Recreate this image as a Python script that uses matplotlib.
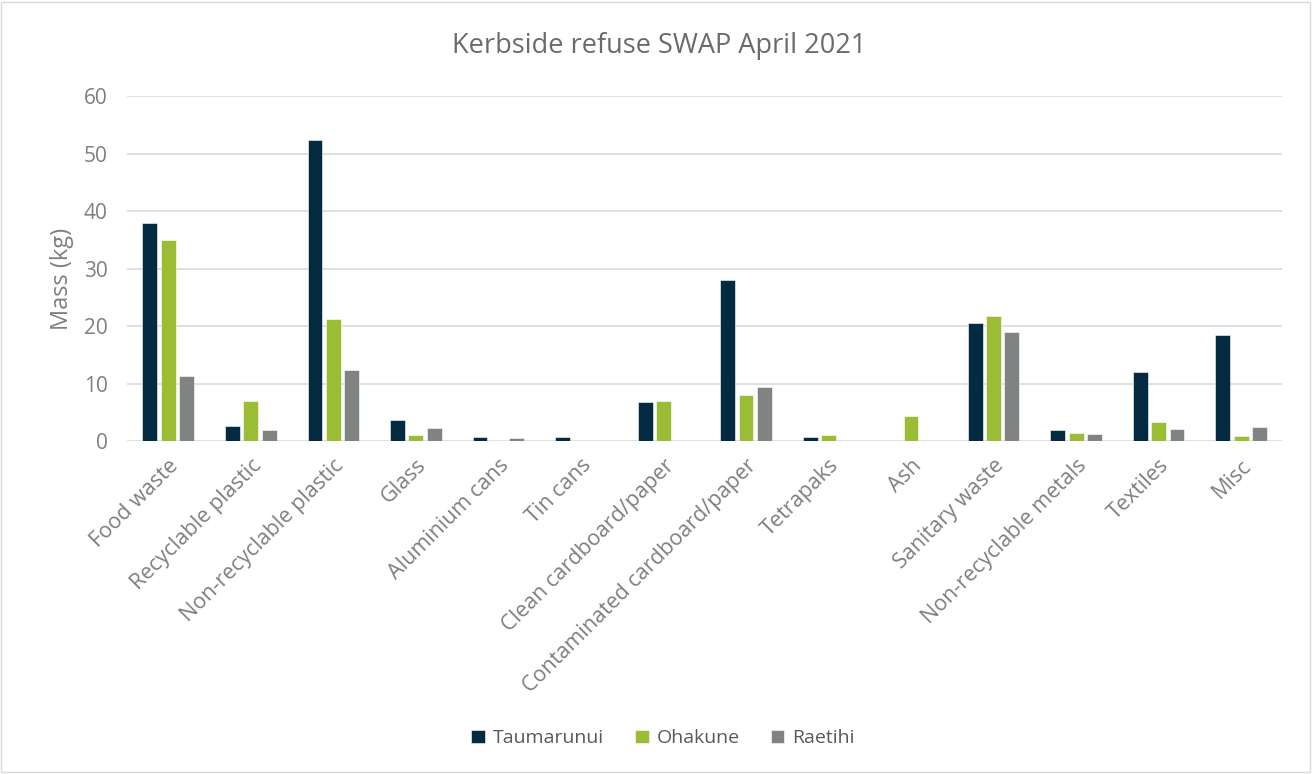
import numpy as np
import matplotlib.pyplot as plt
from matplotlib.patches import Rectangle

categories = [
    "Food waste", "Recyclable plastic", "Non-recyclable plastic", "Glass",
    "Aluminium cans", "Tin cans", "Clean cardboard/paper",
    "Contaminated cardboard/paper", "Tetrapaks", "Ash", "Sanitary waste",
    "Non-recyclable metals", "Textiles", "Misc",
]
taumarunui = [38.0, 2.6, 52.4, 3.7, 0.8, 0.8, 6.8, 28.1, 0.8, 0.0, 20.6, 1.9, 12.0, 18.4]
ohakune = [35.0, 6.9, 21.3, 1.1, 0.25, 0.0, 7.0, 8.0, 1.0, 4.3, 21.8, 1.5, 3.4, 0.85]
raetihi = [11.3, 1.9, 12.4, 2.3, 0.6, 0.0, 0.0, 9.5, 0.0, 0.0, 18.9, 1.2, 2.15, 2.4]

series = [("Taumarunui", taumarunui, "#032a41"),
          ("Ohakune", ohakune, "#9bbd36"),
          ("Raetihi", raetihi, "#7f8382")]

plt.rcParams["font.family"] = ["Open Sans", "DejaVu Sans"]
text_col = "#7f7f7f"

fig = plt.figure(figsize=(13.13, 7.74), dpi=100)
ax = fig.add_axes([0.0967, 0.430, 0.880, 0.446])

x = np.arange(len(categories))
step = 0.222
width = 0.18
for i, (name, vals, col) in enumerate(series):
    ax.bar(x + (i - 1) * step, vals, width, color=col, label=name,
           edgecolor="white", linewidth=0.4, zorder=3)

ax.set_xlim(-0.5, len(categories) - 0.5)
ax.set_ylim(0, 60)
ax.set_yticks(range(0, 61, 10))
ax.grid(axis="y", color="#d9d9d9", linewidth=1.2, zorder=0)
for s in ax.spines.values():
    s.set_visible(False)
ax.tick_params(length=0, colors=text_col, labelsize=15)
ax.tick_params(axis="y", pad=14)
ax.set_xticks(x)
ax.set_xticklabels(categories, rotation=45, ha="right", rotation_mode="anchor",
                   fontsize=15.5)
ax.tick_params(axis="x", pad=10)

ax.set_ylabel("Mass (kg)", color=text_col, fontsize=17)
ax.yaxis.set_label_coords(-0.046, 0.47)
fig.text(0.502, 0.940, "Kerbside refuse SWAP April 2021", color="#6b6b6b",
         fontsize=19.5, ha="center", va="center")

fig.legend(loc="center", bbox_to_anchor=(0.505, 0.046), ncol=3, frameon=False,
           fontsize=14, labelcolor="#595959", handlelength=0.7, handleheight=0.7,
           handletextpad=0.4, columnspacing=1.6)

fig.add_artist(Rectangle((0.001, 0.002), 0.997, 0.996, transform=fig.transFigure,
                         fill=False, edgecolor="#d9d9d9", linewidth=1))

fig.savefig("out.png", dpi=100)
